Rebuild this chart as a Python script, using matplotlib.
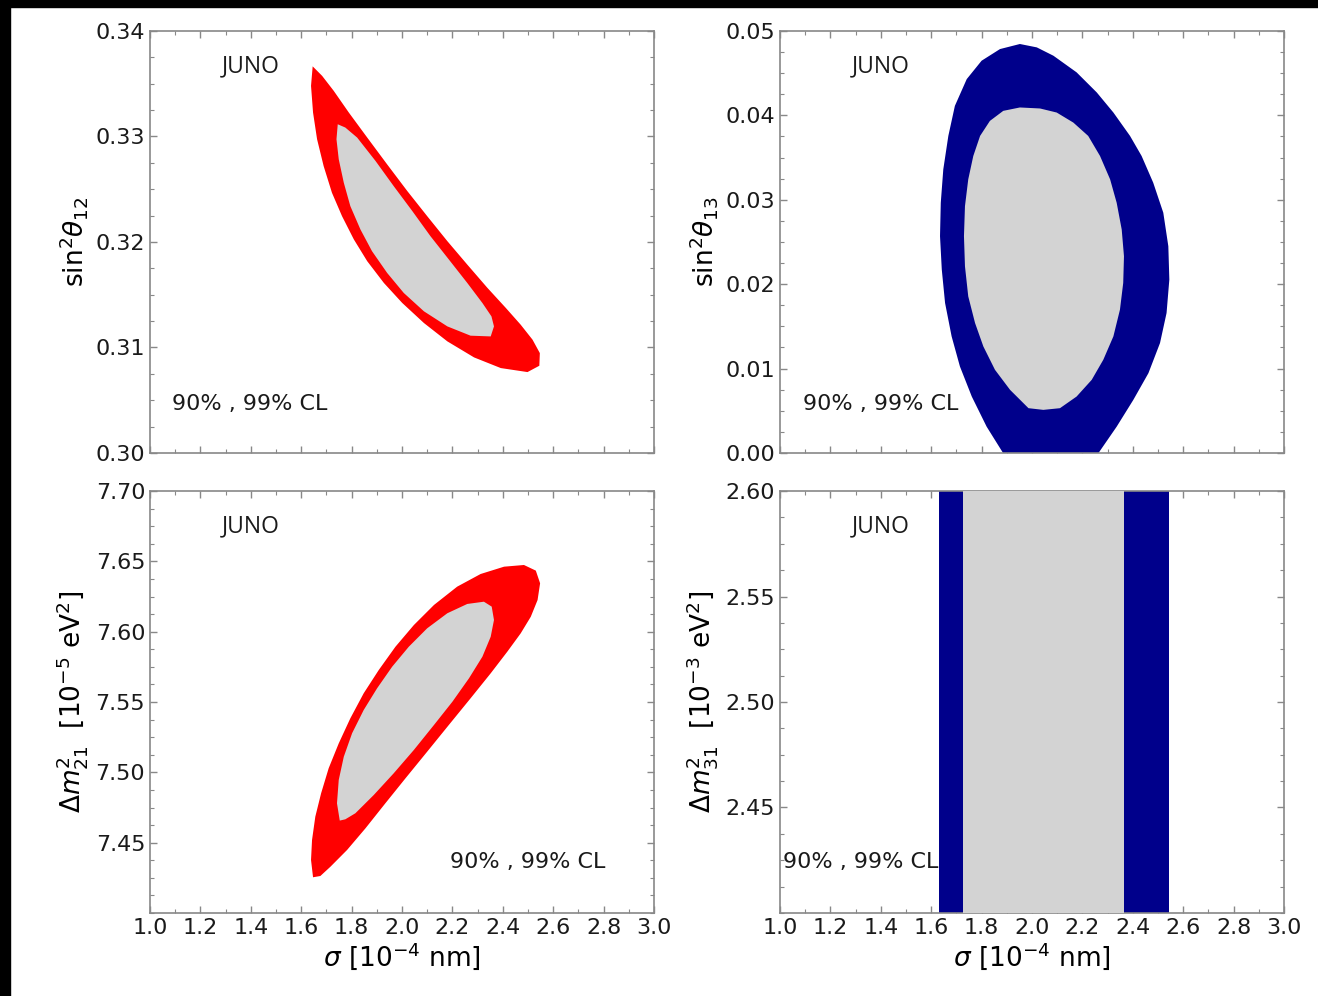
# -*- coding: utf-8 -*-

# JUNO: allowed regions (90%, 99% CL) of the oscillation parameters vs sigma

import numpy as np
import matplotlib.pyplot as plt
from matplotlib.ticker import MultipleLocator
from matplotlib.patches import Rectangle

# --- sin^2 theta12 vs sigma (99% outer, 90% inner)
s12_out_x = [1.6455, 1.639, 1.647, 1.663, 1.689, 1.722, 1.762, 1.809, 1.862, 1.928,
             2.001, 2.087, 2.180, 2.286, 2.392, 2.498, 2.545, 2.547, 2.518, 2.471,
             2.412, 2.339, 2.259, 2.180, 2.100, 2.021, 1.941, 1.862, 1.789, 1.729,
             1.683]
s12_out_y = [0.33665, 0.33480, 0.33227, 0.32974, 0.32720, 0.32467, 0.32245, 0.32024,
             0.31818, 0.31612, 0.31422, 0.31232, 0.31058, 0.30906, 0.30805, 0.30767,
             0.30827, 0.30947, 0.31074, 0.31216, 0.31375, 0.31565, 0.31786, 0.32008,
             0.32245, 0.32483, 0.32736, 0.32990, 0.33227, 0.33433, 0.33575]
s12_in_x = [1.745, 1.740, 1.749, 1.769, 1.795, 1.835, 1.881, 1.941, 2.007, 2.087,
            2.180, 2.272, 2.352, 2.365, 2.355, 2.319, 2.259, 2.186, 2.113, 2.041,
            1.967, 1.895, 1.822, 1.775]
s12_in_y = [0.33116, 0.32974, 0.32784, 0.32562, 0.32340, 0.32119, 0.31913, 0.31707,
            0.31517, 0.31343, 0.31200, 0.31112, 0.31105, 0.31200, 0.31295, 0.31422,
            0.31612, 0.31834, 0.32055, 0.32293, 0.32530, 0.32768, 0.32990, 0.33085]

# --- sin^2 theta13 vs sigma
s13_out_x = [1.952, 1.873, 1.800, 1.741, 1.694, 1.668, 1.648, 1.638, 1.635, 1.642,
             1.655, 1.681, 1.714, 1.761, 1.820, 1.886, 1.926, 2.217, 2.263, 2.336,
             2.402, 2.462, 2.508, 2.534, 2.545, 2.541, 2.521, 2.481, 2.435, 2.389,
             2.323, 2.257, 2.177, 2.085, 2.019]
s13_out_y = [0.04846, 0.04786, 0.04648, 0.04430, 0.04113, 0.03757, 0.03361, 0.02965,
             0.02569, 0.02173, 0.01778, 0.01382, 0.01025, 0.00669, 0.00312, -0.00004,
             -0.00163, -0.00163, -0.00004, 0.00312, 0.00629, 0.00946, 0.01303, 0.01659,
             0.02055, 0.02450, 0.02847, 0.03203, 0.03519, 0.03757, 0.04034, 0.04272,
             0.04510, 0.04707, 0.04806]
s13_in_x = [1.952, 1.886, 1.833, 1.794, 1.767, 1.747, 1.734, 1.730, 1.734, 1.747,
            1.774, 1.807, 1.853, 1.913, 1.986, 2.045, 2.111, 2.177, 2.237, 2.283,
            2.323, 2.349, 2.362, 2.365, 2.356, 2.336, 2.310, 2.270, 2.223, 2.164,
            2.098, 2.032]
s13_in_y = [0.04094, 0.04054, 0.03935, 0.03757, 0.03519, 0.03242, 0.02925, 0.02569,
            0.02212, 0.01856, 0.01540, 0.01262, 0.00986, 0.00748, 0.00531, 0.00511,
            0.00531, 0.00669, 0.00867, 0.01105, 0.01382, 0.01698, 0.02015, 0.02331,
            0.02648, 0.02965, 0.03242, 0.03519, 0.03757, 0.03915, 0.04034, 0.04082]

# --- dm21^2 vs sigma
m21_out_x = [1.647, 1.639, 1.643, 1.656, 1.679, 1.709, 1.749, 1.795, 1.848, 1.908,
             1.974, 2.047, 2.127, 2.219, 2.312, 2.405, 2.484, 2.531, 2.548, 2.538,
             2.511, 2.471, 2.418, 2.352, 2.272, 2.186, 2.100, 2.014, 1.934, 1.855,
             1.782, 1.716, 1.676]
m21_out_y = [7.4254, 7.4377, 7.4519, 7.4685, 7.4851, 7.5029, 7.5206, 7.5384, 7.5562,
             7.5728, 7.5893, 7.6047, 7.6190, 7.6320, 7.6410, 7.6462, 7.6474, 7.6434,
             7.6344, 7.6225, 7.6106, 7.5988, 7.5858, 7.5704, 7.5526, 7.5337, 7.5147,
             7.4958, 7.4780, 7.4602, 7.4448, 7.4329, 7.4263]
m21_in_x = [1.753, 1.742, 1.749, 1.769, 1.802, 1.848, 1.901, 1.961, 2.027, 2.100,
            2.180, 2.259, 2.325, 2.356, 2.365, 2.352, 2.319, 2.266, 2.200, 2.127,
            2.047, 1.967, 1.888, 1.815, 1.775]
m21_in_y = [7.4657, 7.4780, 7.4946, 7.5111, 7.5278, 7.5443, 7.5597, 7.5751, 7.5893,
            7.6024, 7.6131, 7.6197, 7.6213, 7.6178, 7.6083, 7.5964, 7.5822, 7.5669,
            7.5502, 7.5337, 7.5159, 7.4993, 7.4839, 7.4709, 7.4666]

# --- dm31^2 vs sigma (no correlation: vertical bands)
m31_out = [1.631, 2.544]
m31_in = [1.726, 2.365]

xticks = [1.0, 1.2, 1.4, 1.6, 1.8, 2.0, 2.2, 2.4, 2.6, 2.8, 3.0]

RED = "#ff0000"
BLUE = "#00008b"
GRAY = "#d3d3d3"
SPINE = "#888888"
INK = "#1a1a1a"

plt.rcParams["font.family"] = "DejaVu Sans"
plt.rcParams["text.color"] = INK
plt.rcParams["xtick.color"] = SPINE
plt.rcParams["ytick.color"] = SPINE
plt.rcParams["xtick.labelcolor"] = INK
plt.rcParams["ytick.labelcolor"] = INK

fig = plt.figure(figsize=(13.18, 9.96), dpi=100)

# black edges of the page
fig.patches.append(Rectangle((0, 0), 10 / 1318, 1, transform=fig.transFigure,
                             color="black", zorder=0))
fig.patches.append(Rectangle((0, 1 - 7 / 996), 1, 7 / 996, transform=fig.transFigure,
                             color="black", zorder=0))

L1, L2, W = 150 / 1318, 780 / 1318, 504 / 1318
B1, B2, H = 83 / 996, 543 / 996, 422 / 996

ax1 = fig.add_axes([L1, B2, W, H])
ax2 = fig.add_axes([L2, B2, W, H])
ax3 = fig.add_axes([L1, B1, W, H])
ax4 = fig.add_axes([L2, B1, W, H])


def style(ax, ylim, yticks, ymajor, xlabel=True):
    ax.set_xlim(1.0, 3.0)
    ax.set_ylim(*ylim)
    ax.set_xticks(xticks)
    ax.xaxis.set_minor_locator(MultipleLocator(0.1))
    ax.set_yticks(yticks)
    ax.yaxis.set_minor_locator(MultipleLocator(ymajor / 4))
    ax.tick_params(which="both", direction="in", top=True, right=True,
                   labelsize=16)
    ax.tick_params(which="major", length=5, width=1)
    ax.tick_params(which="minor", length=3, width=0.8)
    for s in ax.spines.values():
        s.set_color(SPINE)
        s.set_linewidth(1.2)
    if xlabel:
        ax.set_xlabel(r"$\sigma$ [$10^{-4}$ nm]", fontsize=19, labelpad=2)
    else:
        ax.tick_params(axis="x", which="both", labelbottom=False)


def labels(ax, cl_x, cl_y):
    ax.text(0.199, 0.917, "JUNO", transform=ax.transAxes, ha="center",
            va="center", fontsize=16.5, family="Open Sans", zorder=1)
    ax.text(cl_x, cl_y, "90% , 99% CL", transform=ax.transAxes, ha="left",
            va="center", fontsize=16, zorder=1)


# sin^2 theta12
labels(ax1, 0.044, 0.116)
ax1.fill(s12_out_x, s12_out_y, color=RED, lw=0, zorder=2)
ax1.fill(s12_in_x, s12_in_y, color=GRAY, lw=0, zorder=3)
style(ax1, (0.30, 0.34), np.arange(0.30, 0.3401, 0.01), 0.01, xlabel=False)
ax1.set_yticklabels(["0.30", "0.31", "0.32", "0.33", "0.34"])
ax1.set_ylabel(r"sin$^2\theta_{12}$", fontsize=19)

# sin^2 theta13
labels(ax2, 0.046, 0.116)
ax2.fill(s13_out_x, s13_out_y, color=BLUE, lw=0, zorder=2)
ax2.fill(s13_in_x, s13_in_y, color=GRAY, lw=0, zorder=3)
style(ax2, (0.0, 0.05), np.arange(0.0, 0.0501, 0.01), 0.01, xlabel=False)
ax2.set_yticklabels(["0.00", "0.01", "0.02", "0.03", "0.04", "0.05"])
ax2.set_ylabel(r"sin$^2\theta_{13}$", fontsize=19)

# dm21^2
labels(ax3, 0.596, 0.121)
ax3.fill(m21_out_x, m21_out_y, color=RED, lw=0, zorder=2)
ax3.fill(m21_in_x, m21_in_y, color=GRAY, lw=0, zorder=3)
style(ax3, (7.40, 7.70), np.arange(7.45, 7.701, 0.05), 0.05)
ax3.set_yticklabels(["7.45", "7.50", "7.55", "7.60", "7.65", "7.70"])
ax3.set_ylabel(r"$\Delta m^2_{21}$  [$10^{-5}$ eV$^2$]", fontsize=19)

# dm31^2
labels(ax4, 0.006, 0.121)
ax4.axvspan(m31_out[0], m31_out[1], color=BLUE, lw=0, zorder=2)
ax4.axvspan(m31_in[0], m31_in[1], color=GRAY, lw=0, zorder=3)
style(ax4, (2.40, 2.60), np.arange(2.45, 2.601, 0.05), 0.05)
ax4.set_yticklabels(["2.45", "2.50", "2.55", "2.60"])
ax4.set_ylabel(r"$\Delta m^2_{31}$  [$10^{-3}$ eV$^2$]", fontsize=19)

fig.savefig("out.png", dpi=100)
